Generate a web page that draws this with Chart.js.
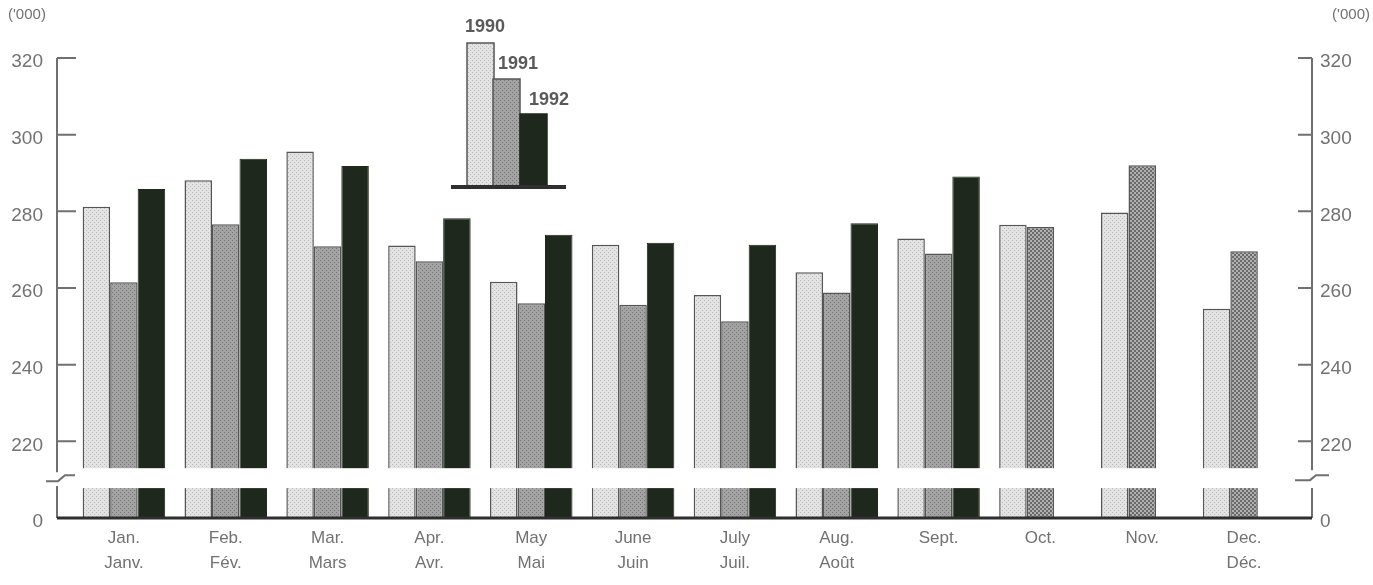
<!DOCTYPE html>
<html>
<head>
<meta charset="utf-8">
<script src="https://cdn.jsdelivr.net/npm/chart.js@4.4.1/dist/chart.umd.min.js"></script>
<style>
  html, body { margin: 0; padding: 0; background: #fff; }
  #wrap { width: 1373px; height: 585px; position: relative; }
</style>
</head>
<body>
<div id="wrap"><canvas id="chart"></canvas></div>
<script>
const months = [
  ["Jan.", "Janv."], ["Feb.", "Fév."], ["Mar.", "Mars"], ["Apr.", "Avr."],
  ["May", "Mai"], ["June", "Juin"], ["July", "Juil."], ["Aug.", "Août"],
  ["Sept.", ""], ["Oct.", ""], ["Nov.", ""], ["Dec.", "Déc."]
];
const years = ["1990", "1991", "1992"];
const v1990 = [281.2, 288.1, 295.6, 271.1, 261.6, 271.3, 258.2, 264.1, 272.9, 276.5, 279.7, 254.6];
const v1991 = [261.5, 276.6, 270.9, 267.0, 256.0, 255.6, 251.3, 258.8, 269.0, 275.9, 292.0, 269.6];
const v1992 = [285.8, 293.7, 291.8, 278.2, 273.9, 271.8, 271.3, 276.9, 289.1, null, null, null];
const yTicks = [200, 220, 240, 260, 280, 300, 320];
const yTickLabels = ["0", "220", "240", "260", "280", "300", "320"];

const FONT = "'Liberation Sans', Arial, sans-serif";
const TEXT = "#727272";

function dotPattern(bg, dot, size, checker) {
  const c = document.createElement("canvas");
  c.width = c.height = size;
  const g = c.getContext("2d");
  g.fillStyle = bg;
  g.fillRect(0, 0, size, size);
  g.fillStyle = dot;
  if (checker) {
    g.fillRect(0, 0, size / 2, size / 2);
    g.fillRect(size / 2, size / 2, size / 2, size / 2);
  } else {
    g.fillRect(0, 0, 1, 1);
    g.fillRect(size / 2, size / 2, 1, 1);
  }
  return g.createPattern(c, "repeat");
}

const fill1990 = dotPattern("#e3e3e3", "#b9b9b9", 4);
const fill1991 = dotPattern("#a3a3a3", "#767676", 4);
const fill1991b = dotPattern("#b0b0b0", "#6a6a6a", 4, true);
const fill1992 = "#1f281d";

// break band, axis lines, inner ticks, baseline, units and inset legend
const decor = {
  id: "decor",
  afterDatasetsDraw(chart) {
    const { ctx, chartArea: a, scales: { y } } = chart;
    const lx = a.left - 16;
    const rx = a.right + 17;
    const base = y.getPixelForValue(200);
    const bandTop = y.getPixelForValue(213);
    const bandBot = y.getPixelForValue(207.8);
    ctx.save();
    ctx.fillStyle = "#fff";
    ctx.fillRect(lx - 14, bandTop, rx - lx + 30, bandBot - bandTop);

    ctx.strokeStyle = "#707070";
    ctx.lineWidth = 2;
    ctx.beginPath();
    // left axis
    ctx.moveTo(lx, y.getPixelForValue(320));
    ctx.lineTo(lx, bandTop + 4);
    ctx.moveTo(lx, bandBot - 2);
    ctx.lineTo(lx, base);
    // right axis
    ctx.moveTo(rx, y.getPixelForValue(320));
    ctx.lineTo(rx, bandTop + 2);
    ctx.moveTo(rx, bandBot);
    ctx.lineTo(rx, base);
    yTicks.slice(1).forEach(t => {
      const py = y.getPixelForValue(t);
      ctx.moveTo(lx, py);
      ctx.lineTo(lx + 19, py);
      ctx.moveTo(rx, py);
      ctx.lineTo(rx - 14, py);
    });
    ctx.stroke();

    // zigzag break marks
    const zy = (bandTop + bandBot) / 2;
    ctx.beginPath();
    ctx.moveTo(lx - 11, zy + 3);
    ctx.lineTo(lx + 1, zy + 3);
    ctx.lineTo(lx + 8, zy - 3);
    ctx.lineTo(lx + 18, zy - 3);
    ctx.moveTo(rx - 17, zy + 2);
    ctx.lineTo(rx - 2, zy + 2);
    ctx.lineTo(rx + 4, zy - 3);
    ctx.lineTo(rx + 17, zy - 3);
    ctx.stroke();

    // baseline
    ctx.strokeStyle = "#2f2f2f";
    ctx.lineWidth = 3;
    ctx.beginPath();
    ctx.moveTo(lx, base);
    ctx.lineTo(rx, base);
    ctx.stroke();

    // units
    ctx.fillStyle = TEXT;
    ctx.font = "15px " + FONT;
    ctx.textBaseline = "middle";
    ctx.textAlign = "left";
    ctx.fillText("('000)", 8, 15);
    ctx.textAlign = "right";
    ctx.fillText("('000)", 1370, 15);

    // inset legend
    const lg = [
      { x: 467, top: 43, fill: fill1990, stroke: "#555" },
      { x: 493, top: 79, fill: fill1991, stroke: "#555" },
      { x: 520, top: 114, fill: fill1992, stroke: fill1992 }
    ];
    const lb = 187;
    lg.forEach(b => {
      ctx.fillStyle = b.fill;
      ctx.fillRect(b.x, b.top, 27, lb - b.top);
      ctx.strokeStyle = b.stroke;
      ctx.lineWidth = 1.5;
      ctx.strokeRect(b.x, b.top, 27, lb - b.top);
    });
    ctx.strokeStyle = "#2f2f2f";
    ctx.lineWidth = 4;
    ctx.beginPath();
    ctx.moveTo(451, lb);
    ctx.lineTo(566, lb);
    ctx.stroke();
    ctx.fillStyle = "#5a5a5a";
    ctx.font = "bold 18px " + FONT;
    ctx.textAlign = "left";
    ctx.fillText(years[0], 465, 27);
    ctx.fillText(years[1], 498, 64);
    ctx.fillText(years[2], 529, 100);
    ctx.restore();
  }
};

const yScale = (pos, width, pad) => ({
  position: pos,
  min: 200,
  max: 320,
  afterBuildTicks: s => { s.ticks = yTicks.map(v => ({ value: v })); },
  afterFit: s => { s.width = width; },
  grid: { display: false, drawTicks: false },
  border: { display: false },
  ticks: {
    padding: pad,
    labelOffset: 4,
    color: TEXT,
    font: { family: FONT, size: 19 },
    callback: (v) => yTickLabels[yTicks.indexOf(v)]
  }
});

new Chart(document.getElementById("chart"), {
  type: "bar",
  data: {
    labels: months,
    datasets: [
      { label: years[0], data: v1990, backgroundColor: fill1990, borderColor: "#555", borderWidth: 1.5 },
      { label: years[1], data: v1991, backgroundColor: v1991.map((_, i) => i < 9 ? fill1991 : fill1991b), borderColor: "#555", borderWidth: 1.5 },
      { label: years[2], data: v1992, backgroundColor: fill1992, borderColor: fill1992, borderWidth: 1 }
    ]
  },
  options: {
    animation: false,
    responsive: true,
    maintainAspectRatio: false,
    layout: { padding: { top: 58, left: 0, right: 0, bottom: 0 } },
    datasets: { bar: { base: 200, categoryPercentage: 0.81, barPercentage: 1.0 } },
    scales: {
      x: {
        grid: { display: false, drawTicks: false },
        border: { display: false },
        afterFit: s => { s.height = 67; },
        ticks: {
          padding: 8,
          maxRotation: 0,
          autoSkip: false,
          color: TEXT,
          font: { family: FONT, size: 17, lineHeight: 1.47 }
        }
      },
      y: yScale("left", 73, 30),
      y2: yScale("right", 78, 25)
    },
    plugins: {
      legend: { display: false },
      tooltip: { enabled: false }
    }
  },
  plugins: [decor]
});
</script>
</body>
</html>
